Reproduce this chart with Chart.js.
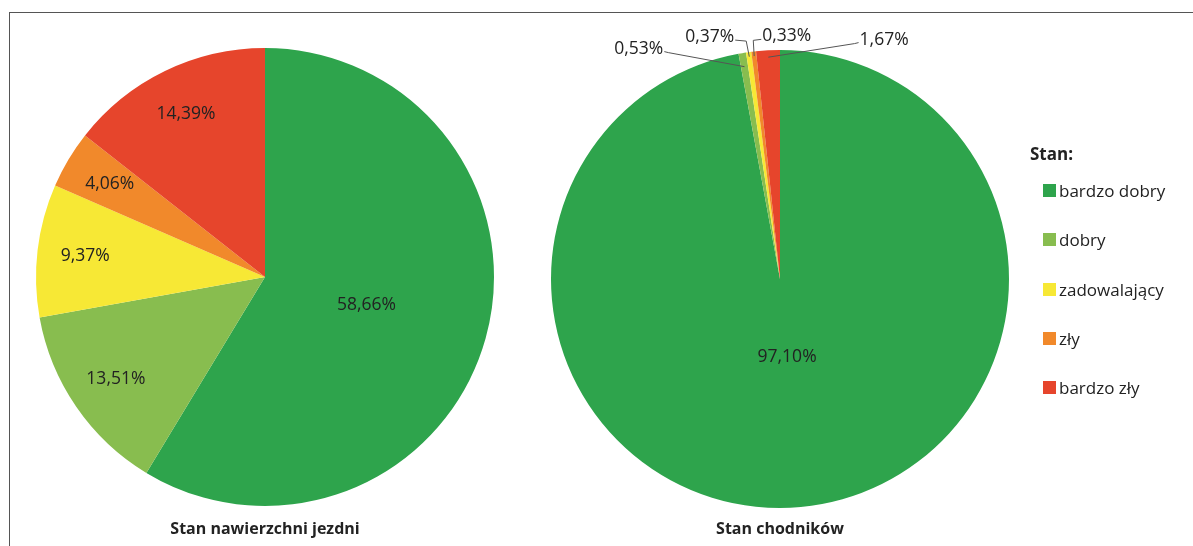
<!DOCTYPE html>
<html><head><meta charset="utf-8">
<script src="https://cdn.jsdelivr.net/npm/chart.js@4"></script>
<style>
html,body{margin:0;padding:0;background:#fff;}
#wrap{position:relative;width:1193px;height:546px;overflow:hidden;font-family:"Open Sans",sans-serif;}
canvas{position:absolute;left:0;top:0;}
#frame{position:absolute;left:9px;top:12px;width:1200px;height:600px;border-left:1.5px solid #555;border-top:1.5px solid #555;}
.title{position:absolute;top:517px;font-weight:bold;font-size:16px;color:#222;transform:translateX(-50%);white-space:nowrap;}
#legend{position:absolute;left:1030px;top:142px;color:#222;font-size:17px;}
#legend .hd{font-weight:bold;font-size:17px;margin-bottom:1px;}
#legend .it{display:flex;align-items:center;height:49.3px;}
#legend .sw{width:13px;height:13px;margin-right:3px;margin-left:13px;}
</style></head>
<body><div id="wrap">
<div id="frame"></div>
<canvas id="c1" width="1193" height="546"></canvas>
<canvas id="c2" width="1193" height="546"></canvas>
<div class="title" id="t1" style="left:265px"></div>
<div class="title" id="t2" style="left:780px"></div>
<div id="legend"><div class="hd">Stan:</div></div>
</div>
<script>
const categories = ["bardzo dobry", "dobry", "zadowalający", "zły", "bardzo zły"];
const jezdniaValues = [58.66, 13.51, 9.37, 4.06, 14.39];
const chodnikiValues = [97.10, 0.53, 0.37, 0.33, 1.67];
const chartTitles = ["Stan nawierzchni jezdni", "Stan chodników"];
const colors = ["#2ea44c", "#88bd4f", "#f7e835", "#f1892b", "#e6452c"];

const fmt = v => v.toFixed(2).replace('.', ',') + '%';

const labelPlugin = {
  id: 'sliceLabels',
  afterDatasetsDraw(chart, args, opts) {
    const ctx = chart.ctx;
    const meta = chart.getDatasetMeta(0);
    const vals = chart.data.datasets[0].data;
    ctx.save();
    ctx.font = '17.5px "Open Sans", sans-serif';
    ctx.fillStyle = '#222';
    ctx.textAlign = 'center';
    ctx.textBaseline = 'middle';
    meta.data.forEach((arc, i) => {
      const {x, y, startAngle, endAngle, outerRadius} = arc.getProps(['x','y','startAngle','endAngle','outerRadius'], true);
      const mid = (startAngle + endAngle) / 2;
      const o = (opts.outside || {})[i];
      const txt = fmt(vals[i]);
      if (o) {
        const la = (o.angle - 90) * Math.PI / 180;
        const lx = x + Math.cos(la) * outerRadius * o.r;
        const ly = y + Math.sin(la) * outerRadius * o.r;
        ctx.fillText(txt, lx, ly);
        const tw = ctx.measureText(txt).width;
        const px = x + Math.cos(mid) * outerRadius * o.pr;
        const py = y + Math.sin(mid) * outerRadius * o.pr;
        const sx = o.side > 0 ? lx + tw / 2 + 1 : lx - tw / 2 - 1;
        const sy = ly + 3;
        ctx.strokeStyle = '#555';
        ctx.lineWidth = 1;
        ctx.beginPath();
        ctx.moveTo(sx, sy);
        ctx.lineTo(sx + o.side * o.elbow, sy + 1);
        ctx.lineTo(px, py);
        ctx.stroke();
      } else {
        const f = vals[i] > 50 ? opts.bigR : opts.smallR;
        ctx.fillText(txt, x + Math.cos(mid) * outerRadius * f, y + Math.sin(mid) * outerRadius * f);
      }
    });
    ctx.restore();
  }
};

function makePie(id, values, padding, labelOpts) {
  return new Chart(document.getElementById(id), {
    type: 'pie',
    data: { labels: categories, datasets: [{ data: values, backgroundColor: colors, borderWidth: 0 }] },
    options: {
      responsive: false, animation: false,
      layout: { padding },
      plugins: { legend: { display: false }, tooltip: { enabled: false }, sliceLabels: labelOpts }
    },
    plugins: [labelPlugin]
  });
}

makePie('c1', jezdniaValues, { left: 36, right: 699, top: 48, bottom: 40 },
  { bigR: 0.46, smallR: 0.79 });
makePie('c2', chodnikiValues, { left: 551, right: 184, top: 50, bottom: 38 },
  { bigR: 0.34, smallR: 0.8,
    outside: {
      1: { angle: -31.5, r: 1.18, pr: 0.94, side: 1, elbow: 4 },
      2: { angle: -16.2, r: 1.1, pr: 0.98, side: 1, elbow: 11 },
      3: { angle: 1.6, r: 1.06, pr: 0.98, side: -1, elbow: 8 },
      4: { angle: 23.5, r: 1.14, pr: 0.97, side: -1, elbow: 4 }
    } });

document.getElementById('t1').textContent = chartTitles[0];
document.getElementById('t2').textContent = chartTitles[1];

const lg = document.getElementById('legend');
categories.forEach((c, i) => {
  const d = document.createElement('div');
  d.className = 'it';
  d.innerHTML = '<span class="sw" style="background:' + colors[i] + '"></span><span>' + c + '</span>';
  lg.appendChild(d);
});
</script>
</body></html>
